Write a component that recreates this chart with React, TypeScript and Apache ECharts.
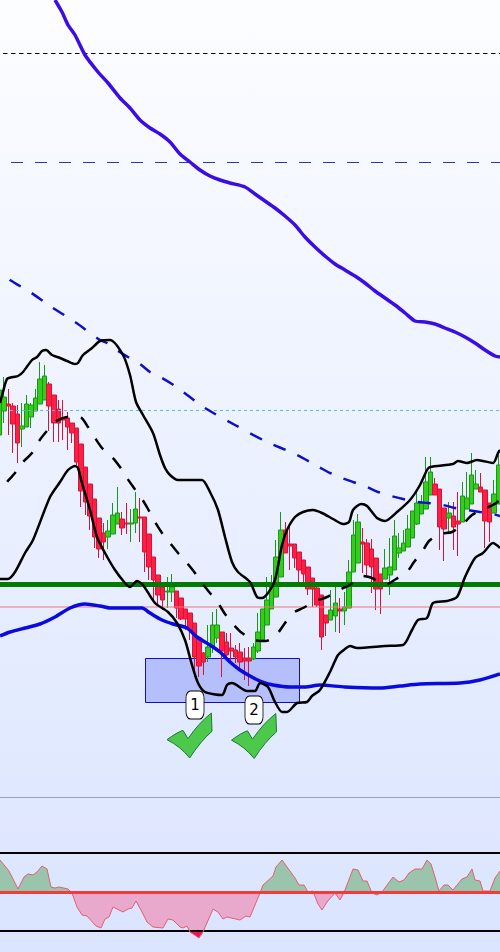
import React, { useEffect, useRef } from "react";
import * as echarts from "echarts";

// Candles: [open, close, wick top, wick bottom], in picture levels (axis runs downwards).
const candleRows: number[][] = [
  [435, 390, 379, 435], [411, 397, 377, 423], [404, 406, 389, 435], [406, 424, 403, 453], [414, 443, 405, 463],
  [429, 426, 403, 447], [427, 404, 395, 427], [417, 405, 403, 428], [411, 398, 389, 411], [404, 379, 362, 404],
  [400, 376, 365, 400], [384, 406, 382, 431], [395, 423, 395, 442], [409, 423, 400, 442], [418, 420, 400, 440],
  [418, 427, 412, 450], [423, 433, 423, 443], [428, 462, 428, 465], [444, 491, 444, 507], [467, 502, 467, 515],
  [484, 516, 484, 530], [499, 537, 499, 548], [518, 549, 518, 558], [533, 542, 523, 560], [537, 531, 520, 549],
  [534, 515, 503, 534], [524, 513, 487, 524], [519, 528, 512, 535], [523, 524, 503, 534], [524, 523, 509, 542],
  [523, 509, 492, 533], [517, 518, 498, 542], [517, 552, 517, 572], [534, 567, 534, 580], [557, 580, 557, 600],
  [575, 595, 575, 605], [587, 600, 587, 610], [592, 591, 577, 608], [592, 587, 574, 602], [591, 608, 591, 618],
  [598, 619, 598, 620], [609, 619, 609, 630], [613, 630, 613, 640], [623, 657, 623, 677], [638, 666, 638, 677],
  [653, 662, 652, 675], [657, 647, 625, 662], [647, 625, 612, 653], [638, 625, 609, 643], [632, 651, 632, 677],
  [642, 655, 633, 657], [648, 651, 633, 662], [650, 657, 645, 663], [652, 662, 643, 670], [658, 661, 648, 680],
  [658, 661, 647, 686], [659, 647, 643, 660], [651, 632, 613, 653], [640, 609, 609, 640], [625, 600, 577, 625],
  [609, 583, 575, 609], [597, 557, 540, 597], [577, 530, 512, 577], [530, 553, 522, 553], [544, 546, 527, 570],
  [544, 558, 544, 568], [552, 570, 552, 585], [560, 574, 560, 582], [567, 589, 567, 595], [578, 589, 578, 607],
  [588, 605, 583, 607], [595, 637, 595, 650], [615, 623, 615, 636], [620, 610, 590, 620], [616, 603, 587, 632],
  [609, 611, 598, 633], [611, 607, 592, 625], [608, 572, 560, 608], [572, 535, 520, 572], [563, 522, 514, 563],
  [542, 544, 528, 573], [543, 565, 539, 577], [549, 567, 539, 593], [558, 589, 558, 610], [574, 589, 574, 614],
  [579, 568, 549, 579], [575, 567, 538, 595], [570, 536, 520, 570], [553, 548, 533, 558], [551, 543, 530, 551],
  [547, 529, 515, 547], [538, 511, 511, 538], [524, 503, 490, 525], [514, 503, 495, 514], [509, 482, 457, 509],
  [495, 472, 457, 495], [484, 495, 478, 495], [489, 527, 489, 550], [508, 529, 508, 561], [518, 513, 502, 532],
  [516, 527, 502, 550], [521, 524, 492, 556], [522, 496, 482, 522], [509, 498, 472, 509], [504, 475, 453, 504],
  [489, 484, 470, 489], [487, 492, 473, 492], [490, 521, 490, 548], [503, 522, 503, 542], [513, 494, 480, 513],
  [504, 465, 450, 504],
];
const categories = candleRows.map((_, i) => String(i));

const purpleLine = [[55, 0], [62, 12], [68, 25], [75, 35], [85, 55], [98, 72], [108, 83], [120, 98], [130, 108], [140, 120], [150, 128], [160, 134], [170, 142], [180, 154], [190, 162], [200, 170], [210, 176], [220, 180], [230, 183], [245, 187], [255, 194], [265, 201], [275, 208], [285, 216], [295, 225], [305, 237], [315, 247], [325, 256], [335, 264], [345, 270], [355, 276], [365, 283], [375, 291], [385, 298], [395, 305], [405, 313], [415, 321], [425, 322], [435, 324], [445, 328], [455, 332], [465, 337], [475, 343], [485, 350], [495, 356], [500, 357]];
const blueDashLine = [[0, 271], [10, 280], [30, 292], [50, 306], [75, 322], [100, 340], [107, 343], [118, 351], [128, 357], [140, 364], [150, 372], [162, 378], [175, 386], [205, 408], [235, 425], [265, 441], [297, 455], [319, 467], [330, 473], [342, 478], [353, 482], [367, 487], [378, 492], [391, 496], [403, 499], [417, 502], [428, 503], [443, 505], [455, 508], [467, 510], [480, 512], [493, 514], [500, 516]];
const blueMaLine = [[0, 636], [10, 632], [25, 628], [40, 624], [55, 617], [70, 608], [85, 604], [100, 606], [110, 608], [130, 608], [142, 608], [150, 613], [162, 620], [173, 624], [187, 628], [197, 637], [210, 645], [220, 652], [230, 662], [240, 670], [250, 676], [262, 682], [273, 685], [290, 687], [305, 687], [320, 685], [345, 687], [380, 688], [400, 686], [420, 684], [460, 683], [480, 680], [500, 674]];
const upperBand = [[0, 403], [3, 392], [7, 379], [13, 377], [18, 376], [23, 372], [32, 360], [37, 357], [42, 351], [46, 350], [52, 355], [60, 358], [67, 361], [75, 364], [78, 363], [83, 355], [92, 348], [100, 341], [110, 340], [123, 355], [130, 375], [136, 402], [143, 415], [153, 433], [160, 455], [165, 468], [170, 475], [178, 480], [187, 480], [202, 480], [210, 492], [218, 510], [225, 537], [232, 562], [238, 572], [250, 582], [257, 597], [262, 598], [268, 593], [275, 580], [282, 545], [287, 530], [295, 517], [303, 512], [313, 510], [322, 513], [333, 519], [343, 524], [349, 522], [353, 510], [361, 504], [367, 506], [377, 518], [385, 521], [397, 512], [410, 500], [420, 485], [427, 470], [430, 467], [453, 464], [458, 461], [467, 463], [477, 460], [493, 463], [498, 453], [500, 450]];
const lowerBand = [[0, 579], [8, 579], [15, 572], [25, 553], [33, 540], [50, 497], [60, 482], [68, 470], [75, 466], [78, 468], [82, 483], [90, 510], [97, 537], [105, 553], [115, 570], [125, 583], [130, 587], [137, 581], [143, 585], [155, 603], [168, 612], [177, 623], [185, 640], [192, 665], [198, 683], [205, 692], [222, 695], [227, 685], [232, 683], [247, 691], [255, 691], [260, 683], [268, 687], [275, 702], [282, 712], [287, 712], [297, 703], [307, 702], [312, 696], [320, 690], [330, 672], [338, 655], [345, 649], [350, 646], [357, 648], [385, 646], [403, 645], [412, 630], [418, 620], [427, 618], [433, 603], [447, 601], [457, 597], [465, 577], [475, 558], [483, 553], [493, 543], [500, 548]];
const midBand = [[0, 490], [7, 482], [15, 473], [23, 462], [32, 453], [39, 441], [46, 432], [55, 422], [68, 417], [80, 417], [88, 427], [95, 438], [102, 448], [112, 457], [120, 467], [127, 478], [134, 488], [142, 499], [148, 509], [155, 522], [162, 533], [170, 543], [178, 553], [187, 563], [195, 573], [202, 583], [210, 593], [218, 603], [225, 614], [233, 624], [242, 633], [254, 640], [266, 641], [277, 634], [285, 623], [293, 613], [303, 608], [316, 601], [327, 597], [339, 590], [350, 585], [362, 576], [372, 578], [385, 585], [396, 579], [407, 572], [414, 562], [422, 552], [429, 541], [440, 534], [452, 532], [463, 524], [472, 515], [483, 509], [493, 505], [500, 500]];
const oscillator = [[0, 860], [9, 871], [18, 889], [24, 877], [28, 874], [33, 875], [37, 872], [42, 866], [47, 869], [51, 887], [55, 888], [59, 887], [68, 889], [72, 893], [77, 907], [82, 915], [87, 916], [96, 926], [101, 928], [105, 919], [109, 917], [113, 907], [123, 912], [128, 909], [132, 908], [136, 901], [142, 912], [147, 922], [153, 927], [163, 928], [168, 919], [173, 920], [180, 927], [183, 928], [187, 926], [190, 932], [199, 938], [203, 932], [213, 909], [218, 912], [223, 919], [227, 917], [240, 920], [246, 916], [250, 917], [260, 893], [263, 885], [273, 876], [276, 867], [282, 860], [295, 878], [299, 885], [304, 885], [308, 892], [313, 891], [318, 904], [322, 910], [327, 902], [335, 893], [340, 900], [345, 890], [353, 869], [358, 870], [363, 881], [367, 881], [372, 893], [377, 895], [382, 892], [393, 877], [399, 882], [404, 880], [409, 873], [415, 869], [422, 869], [427, 860], [431, 864], [435, 877], [439, 891], [444, 885], [448, 885], [453, 890], [462, 879], [467, 877], [472, 869], [475, 880], [480, 881], [483, 891], [490, 891], [495, 878], [500, 871]];

const oscZero = 892.5;
const oscFloor = 932;
const levels = [
  { name: "dotted", y: 53.5, from: 3, color: "#000000", width: 1, dash: [4.5, 3.5] },
  { name: "blueDash", y: 162.5, from: 11, color: "#2a35b5", width: 1, dash: [12, 12] },
  { name: "cyanDash", y: 410.5, from: 10, color: "#62b8e6", width: 1, dash: [3, 3] },
  { name: "pink", y: 607, from: -3, color: "#f27878", width: 1.2, dash: null },
  { name: "green", y: 584.5, from: -3, color: "#007c00", width: 5, dash: null },
  { name: "gray", y: 797.5, from: -3, color: "#99a3b3", width: 1, dash: null },
  { name: "oscTop", y: 853, from: -3, color: "#000000", width: 2, dash: null },
  { name: "oscBottom", y: 931, from: -3, color: "#000000", width: 2, dash: null },
];
const zoneRect = { x0: 145.5, x1: 299.5, y0: 658.5, y1: 702.5 };
const badges: [number, number, string][] = [[195, 705, "1"], [254, 710, "2"]];
const checks = [[189.5, 735.5], [254, 736]];
const CHECK_PATH = "path://M0 80 Q30 58 48 52 L63 77 Q95 30 133 0 L135 55 Q100 85 68 135 Q40 100 0 80 Z";

function line(name: string, data: number[][], color: string, width: number, extra: any = {}) {
  return {
    type: "line", name, data, xAxisIndex: 1, yAxisIndex: 0, showSymbol: false, symbol: "none",
    smooth: 0.25, silent: true, lineStyle: { color, width, cap: "butt", ...(extra.lineStyle || {}) },
    z: extra.z ?? 5, ...(extra.rest || {}),
  };
}

export default function App() {
  const ref = useRef<HTMLDivElement>(null);
  useEffect(() => {
    const chart = echarts.init(ref.current!, undefined, { renderer: "svg" });
    const series: any[] = [];
    series.push({
      type: "line", name: "zone", data: [], xAxisIndex: 1, yAxisIndex: 0, z: 1, silent: true,
      markArea: {
        silent: true,
        itemStyle: { color: "#b4bffb", borderColor: "#1010c0", borderWidth: 1 },
        data: [[{ xAxis: zoneRect.x0, yAxis: zoneRect.y0 }, { xAxis: zoneRect.x1, yAxis: zoneRect.y1 }]],
      },
    });
    series.push({
      type: "candlestick", name: "price", data: candleRows, xAxisIndex: 0, yAxisIndex: 0, barWidth: 5, z: 2, silent: true,
      itemStyle: { color: "#ff1f45", color0: "#35cc1c", borderColor: "#d2143a", borderColor0: "#189618", borderWidth: 1 },
    });
    for (const l of levels) {
      series.push({
        type: "line", name: l.name, data: [[l.from, l.y], [501, l.y]], xAxisIndex: 1, yAxisIndex: 0, symbol: "none", silent: true, z: 3,
        lineStyle: { color: l.color, width: l.width, type: l.dash || "solid", cap: "butt" },
      });
    }
    series.push(line("purple", purpleLine, "#3a0ce6", 3.5));
    series.push(line("blueDash", blueDashLine, "#0f0fc8", 2.5, { lineStyle: { type: [13, 13], dashOffset: 13 } }));
    series.push(line("blueMa", blueMaLine, "#0a0ae0", 3.5));
    series.push(line("upper", upperBand, "#000000", 2.5));
    series.push(line("lower", lowerBand, "#000000", 2.5));
    series.push(line("mid", midBand, "#000000", 2.5, { lineStyle: { type: [13, 13], dashOffset: 15.4 } }));
    const area = (name: string, data: number[][], color: string, origin: number) => ({
      type: "line", name, data, xAxisIndex: 1, yAxisIndex: 0, symbol: "none", silent: true, z: 2,
      lineStyle: { width: 0 }, areaStyle: { color, opacity: 1, origin },
    });
    series.push(area("oscUp", oscillator.map(([x, y]) => [x, Math.min(y, oscZero)]), "#9bc4ad", oscZero));
    series.push(area("oscDown", oscillator.map(([x, y]) => [x, Math.max(y, oscZero)]), "#e8a9cc", oscZero));
    series.push(area("oscDeep", oscillator.map(([x, y]) => [x, Math.max(y, oscFloor)]), "#f0105a", oscFloor));
    series.push({
      type: "line", name: "oscLine", data: oscillator, xAxisIndex: 1, yAxisIndex: 0, symbol: "none", silent: true, z: 3,
      lineStyle: { color: "#e4606e", width: 1 },
    });
    series.push({
      type: "line", name: "oscZero", data: [[-3, oscZero], [501, oscZero]], xAxisIndex: 1, yAxisIndex: 0, symbol: "none", silent: true, z: 4,
      lineStyle: { color: "#f03c3c", width: 3, cap: "butt" },
    });
    series.push({
      type: "scatter", name: "checks", data: checks, xAxisIndex: 1, yAxisIndex: 0, symbol: CHECK_PATH, symbolSize: 45, silent: true, z: 7,
      itemStyle: { color: "#4cc94c", borderColor: "#1c7a2c", borderWidth: 1, opacity: 1 },
    });
    series.push({
      type: "scatter", name: "badges", data: badges, xAxisIndex: 1, yAxisIndex: 0, symbol: "roundRect", symbolSize: [18, 28], silent: true, z: 8,
      itemStyle: { color: "#ffffff", borderColor: "#000000", borderWidth: 1, opacity: 1 },
      label: {
        show: true, position: "inside", color: "#000000", fontFamily: "DejaVu Sans", fontSize: 15,
        formatter: (p: any) => p.value[2],
      },
    });
    chart.setOption({
      animation: false,
      backgroundColor: new echarts.graphic.LinearGradient(0, 0, 0, 1, [
        { offset: 0, color: "#fcfdff" },
        { offset: 1, color: "#dae4ff" },
      ]),
      grid: { left: 0, top: 0, width: 504, height: 952, containLabel: false },
      xAxis: [
        { type: "category", data: categories, boundaryGap: true, show: false },
        { type: "value", min: -3, max: 501, show: false },
      ],
      yAxis: [{ type: "value", min: 0, max: 952, inverse: true, show: false, scale: true }],
      series,
    });
    return () => chart.dispose();
  }, []);
  return (
    <div style={{ position: "absolute", left: 0, top: 0, width: 500, height: 952, overflow: "hidden" }}>
      <div ref={ref} style={{ position: "absolute", left: -3, top: 0, width: 504, height: 952 }} />
    </div>
  );
}
